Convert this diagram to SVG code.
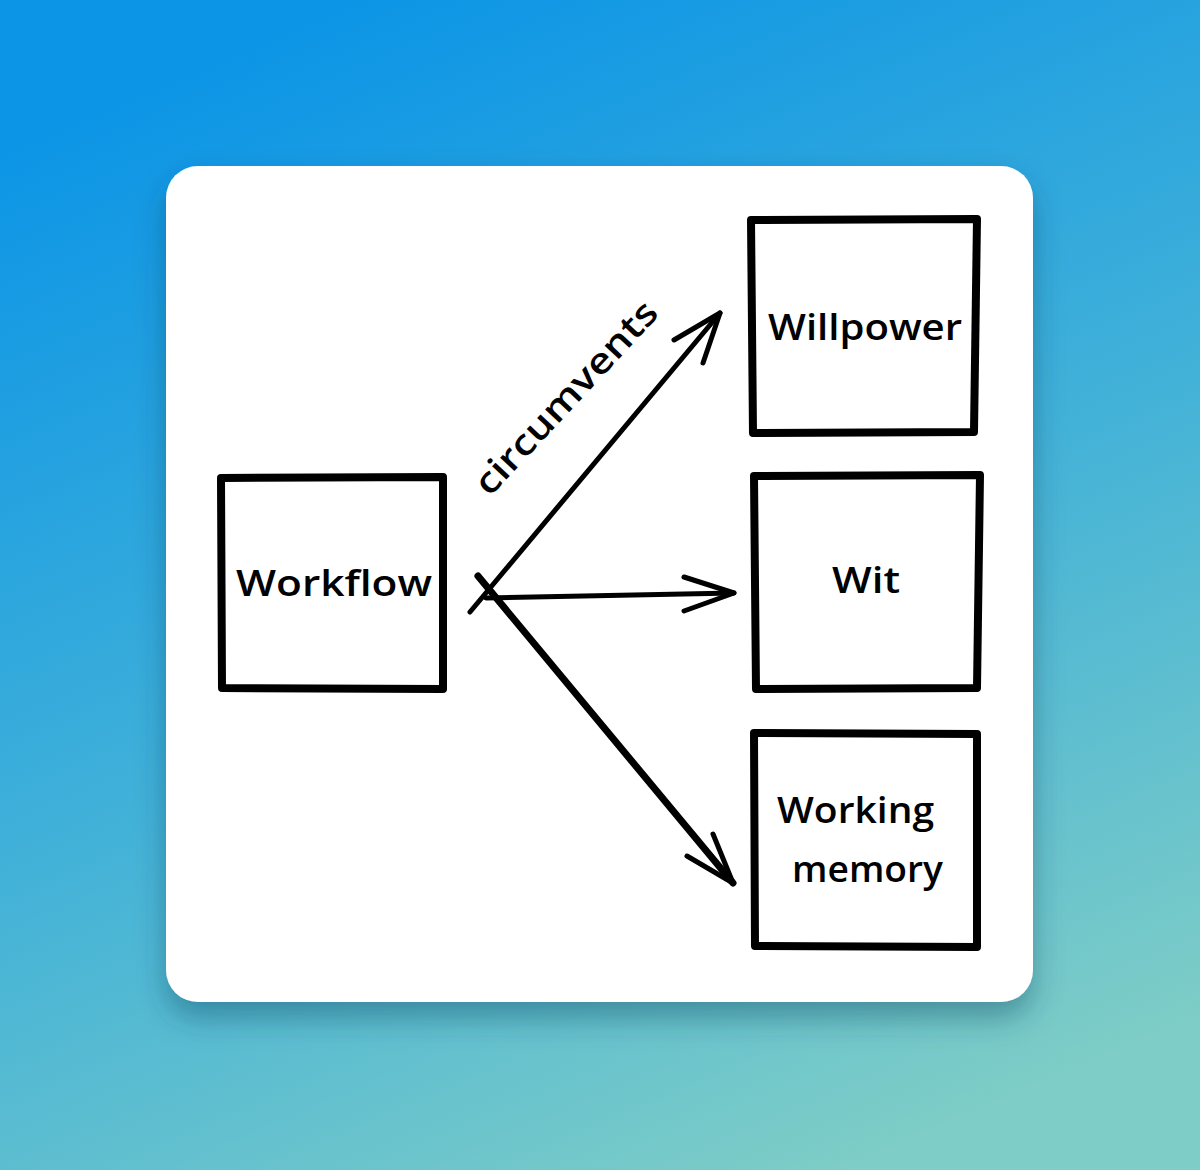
<svg xmlns="http://www.w3.org/2000/svg" width="1200" height="1170" viewBox="0 0 1200 1170">
  <defs>
    <linearGradient id="bg" gradientUnits="userSpaceOnUse" x1="350" y1="0" x2="850" y2="1170">
      <stop offset="0" stop-color="#0c95e6"/>
      <stop offset="0.5" stop-color="#3fb0d9"/>
      <stop offset="1" stop-color="#7ecdc6"/>
    </linearGradient>
    <filter id="shadow" x="-10%" y="-10%" width="120%" height="125%">
      <feDropShadow dx="0" dy="16" stdDeviation="15" flood-color="#0a3a55" flood-opacity="0.38"/>
    </filter>
  </defs>
  <style>
    .box { fill: #ffffff; stroke: #000000; stroke-width: 8; stroke-linecap: round; stroke-linejoin: round; }
    .edge { fill: none; stroke: #000000; stroke-width: 5; stroke-linecap: round; stroke-linejoin: round; }
    .edge-thick { fill: none; stroke: #000000; stroke-width: 7; stroke-linecap: round; stroke-linejoin: round; }
    .label { font-family: "Open Sans", "Noto Sans", "Liberation Sans", sans-serif; font-size: 36px; font-weight: 600; fill: #000000; }
  </style>
  <rect x="0" y="0" width="1200" height="1170" fill="url(#bg)"/>
  <rect x="166" y="166" width="867" height="836" rx="32" ry="32" fill="#ffffff" filter="url(#shadow)"/>

  <g id="node-workflow">
    <path class="box" d="M221 478 L443 477 L443 689 L222 688 Z"/>
    <text class="label" x="236" y="596" textLength="196" lengthAdjust="spacingAndGlyphs">Workflow</text>
  </g>
  <g id="node-willpower">
    <path class="box" d="M751 220 L977 219 L974 432 L753 433 Z"/>
    <text class="label" x="768" y="340" textLength="194" lengthAdjust="spacingAndGlyphs">Willpower</text>
  </g>
  <g id="node-wit">
    <path class="box" d="M754 476 L980 475 L977 688 L756 689 Z"/>
    <text class="label" x="832" y="593" textLength="68" lengthAdjust="spacingAndGlyphs">Wit</text>
  </g>
  <g id="node-working-memory">
    <path class="box" d="M754 733 L977 734 L977 947 L755 946 Z"/>
    <text class="label" x="777" y="823" textLength="157" lengthAdjust="spacingAndGlyphs">Working</text>
    <text class="label" x="792" y="882" textLength="151" lengthAdjust="spacingAndGlyphs">memory</text>
  </g>

  <g id="connectors">
    <!-- to Willpower -->
    <path class="edge" d="M470 612 L720 313"/>
    <path class="edge" d="M674 340 L720 313 L703 363"/>
    <!-- to Wit -->
    <path class="edge" d="M486 598 L734 593"/>
    <path class="edge" d="M684 577 L734 593 L684 611"/>
    <!-- to Working memory -->
    <path class="edge-thick" d="M478 576 L733 883"/>
    <path class="edge" d="M713 834 L733 883 L687 856"/>
    <text class="label" transform="translate(575 406) rotate(-47)" text-anchor="middle" x="0" y="0" textLength="250" lengthAdjust="spacingAndGlyphs">circumvents</text>
  </g>
</svg>
